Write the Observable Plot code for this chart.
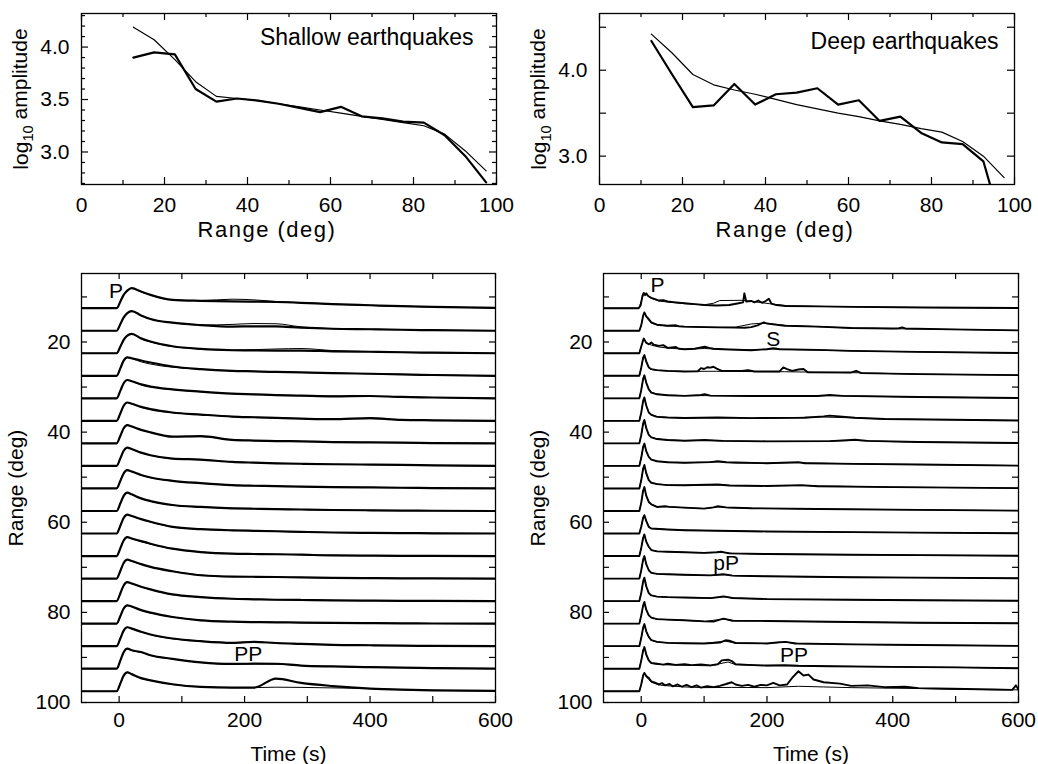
<!DOCTYPE html>
<html><head><meta charset="utf-8">
<script src="https://cdn.jsdelivr.net/npm/d3@7"></script>
<script src="https://cdn.jsdelivr.net/npm/@observablehq/plot@0.6"></script>
<style>
html,body{margin:0;padding:0;background:#fff;}
#fig{position:relative;width:1038px;height:764px;overflow:hidden;background:#fff;}
</style></head><body><div id="fig"></div>
<script>
// ---------------- DATA ----------------
// Top panels: log10 amplitude vs range
const ampRange = [12.5,17.5,22.5,27.5,32.5,37.5,42.5,47.5,52.5,57.5,62.5,67.5,72.5,77.5,82.5,87.5,92.5,97.5];
const shallowAmpObs = [3.90,3.95,3.93,3.60,3.48,3.51,3.49,3.46,3.42,3.38,3.43,3.34,3.32,3.29,3.28,3.16,2.96,2.71];
const shallowAmpSyn = [4.19,4.07,3.88,3.67,3.53,3.51,3.49,3.46,3.43,3.40,3.37,3.34,3.31,3.28,3.25,3.17,3.01,2.82];
const deepAmpObs = [4.34,3.95,3.57,3.59,3.84,3.60,3.72,3.74,3.79,3.60,3.65,3.41,3.46,3.27,3.16,3.14,2.94,2.10];
const deepAmpSyn = [4.42,4.20,3.95,3.83,3.77,3.72,3.66,3.60,3.55,3.50,3.46,3.41,3.37,3.32,3.28,3.17,3.00,2.75];

// Bottom panels: envelope stacks, one trace per range bin (amplitude in degrees of offset)
const traceRanges = [12.5,17.5,22.5,27.5,32.5,37.5,42.5,47.5,52.5,57.5,62.5,67.5,72.5,77.5,82.5,87.5,92.5,97.5];
const shallowTime = [-60,-4,2,7,13,20,35,50,85,130,180,215,250,290,340,400,450,500,600];
const shallowObs = [
  [0,0,1.5,2.9,3.9,4.44,3.7,2.96,1.85,1.63,1.5,1.45,1.38,1.2,0.9,0.65,0.44,0.3,0.05],
  [0,0,1.5,2.9,3.9,4.37,3.4,2.6,1.78,1.26,0.92,0.98,0.95,0.67,0.44,0.33,0.22,0.12,0],
  [0,0,1.5,2.9,3.9,4.3,3.3,2.6,1.55,0.96,0.67,0.62,0.6,0.6,0.44,0.33,0.22,0.12,0],
  [0,0,1.7,3.3,4.07,3.9,3.4,2.96,2.07,1.48,1.1,0.98,0.85,0.74,0.59,0.45,0.3,0.18,0],
  [0,0,1.7,3.3,4.07,3.8,3.1,2.6,2.0,1.48,1.04,0.88,0.72,0.6,0.44,0.52,0.3,0.18,0],
  [0,0,1.7,3.3,4.07,3.8,3.1,2.6,1.85,1.4,0.96,0.8,0.65,0.5,0.37,0.6,0.22,0.12,0],
  [0,0,1.7,3.3,4.07,3.75,3.0,2.44,1.48,1.6,0.8,0.62,0.52,0.45,0.3,0.22,0.15,0.08,0],
  [0,0,1.7,3.3,4.07,3.75,2.95,2.37,1.63,1.4,0.89,0.72,0.58,0.48,0.37,0.3,0.22,0.12,0],
  [0,0,1.7,3.3,4.07,3.75,3.0,2.44,1.7,1.18,0.74,0.6,0.5,0.4,0.3,0.22,0.15,0.08,0],
  [0,0,1.7,3.3,4.07,3.7,2.8,2.2,1.33,0.89,0.6,0.5,0.42,0.33,0.22,0.15,0.1,0.05,0],
  [0,0,1.75,3.4,4.2,3.9,3.2,2.6,1.48,0.96,0.7,0.6,0.5,0.37,0.22,0.15,0.1,0.05,0],
  [0,0,1.75,3.4,4.2,3.9,3.3,2.74,1.63,0.89,0.52,0.45,0.4,0.3,0.15,0.1,0.05,0.03,0],
  [0,0,1.75,3.4,4.2,3.9,3.2,2.6,1.63,0.74,0.44,0.4,0.35,0.25,0.15,0.1,0.05,0.03,0],
  [0,0,1.75,3.4,4.2,3.9,3.2,2.6,1.48,0.89,0.52,0.4,0.3,0.25,0.15,0.1,0.05,0.03,0],
  [0,0,1.7,3.3,4.07,3.8,3.0,2.44,1.48,0.74,0.44,0.35,0.3,0.22,0.15,0.1,0.05,0.03,0],
  [0,0,1.75,3.4,4.2,3.9,3.2,2.6,1.7,1.1,0.74,0.96,0.7,0.52,0.3,0.2,0.12,0.06,0],
  [0,0,1.85,3.6,4.44,4.1,3.7,3.0,2.2,1.4,1.05,1.15,1.1,0.7,0.5,0.35,0.25,0.15,0],
  [0,0,1.75,3.4,4.2,3.8,2.9,2.4,1.55,0.95,0.78,0.8,2.8,1.85,1.15,0.6,0.35,0.2,0.1]
];
const shallowSyn = [
  [0,0,1.5,2.9,3.9,4.44,3.6,2.9,1.85,1.7,2.0,1.85,1.5,1.25,0.9,0.65,0.44,0.3,0.05],
  [0,0,1.5,2.9,3.9,4.37,3.4,2.6,1.78,1.26,1.4,1.6,1.55,0.85,0.44,0.33,0.22,0.12,0],
  [0,0,1.5,2.9,3.9,4.3,3.2,2.5,1.5,0.96,0.7,0.8,0.95,1.05,0.6,0.35,0.22,0.12,0],
  [0,0,1.7,3.3,4.07,3.8,3.1,2.6,1.9,1.45,1.1,0.98,0.85,0.74,0.59,0.45,0.3,0.18,0],
  [0,0,1.7,3.3,4.07,3.8,3.0,2.55,1.95,1.45,1.04,0.88,0.72,0.6,0.5,0.45,0.3,0.18,0],
  [0,0,1.7,3.3,4.07,3.8,3.0,2.5,1.8,1.4,0.96,0.8,0.65,0.5,0.45,0.5,0.22,0.12,0],
  [0,0,1.7,3.3,4.07,3.75,3.0,2.44,1.5,1.5,0.8,0.62,0.52,0.45,0.3,0.22,0.15,0.08,0],
  [0,0,1.7,3.3,4.07,3.7,2.9,2.35,1.6,1.35,0.89,0.72,0.58,0.48,0.37,0.3,0.22,0.12,0],
  [0,0,1.7,3.3,4.07,3.7,2.95,2.4,1.65,1.15,0.74,0.6,0.5,0.4,0.3,0.22,0.15,0.08,0],
  [0,0,1.7,3.3,4.07,3.65,2.75,2.15,1.3,0.89,0.6,0.5,0.42,0.33,0.22,0.15,0.1,0.05,0],
  [0,0,1.75,3.4,4.2,3.85,3.15,2.55,1.45,0.96,0.7,0.6,0.5,0.37,0.22,0.15,0.1,0.05,0],
  [0,0,1.75,3.4,4.2,3.85,3.2,2.65,1.6,0.9,0.52,0.45,0.4,0.3,0.15,0.1,0.05,0.03,0],
  [0,0,1.75,3.4,4.2,3.85,3.15,2.55,1.6,0.8,0.46,0.4,0.35,0.25,0.15,0.1,0.05,0.03,0],
  [0,0,1.75,3.4,4.2,3.85,3.15,2.55,1.45,0.9,0.52,0.4,0.3,0.25,0.15,0.1,0.05,0.03,0],
  [0,0,1.7,3.3,4.07,3.75,2.95,2.4,1.45,0.78,0.46,0.36,0.3,0.22,0.15,0.1,0.05,0.03,0],
  [0,0,1.75,3.4,4.2,3.85,3.15,2.55,1.65,1.1,0.78,0.9,0.72,0.52,0.3,0.2,0.12,0.06,0],
  [0,0,1.85,3.6,4.44,4.05,3.6,2.95,2.15,1.4,1.0,1.0,1.0,0.7,0.5,0.35,0.25,0.15,0],
  [0,0,1.75,3.4,4.2,3.75,2.8,2.4,1.5,1.0,0.8,0.8,0.9,0.85,0.74,0.6,0.35,0.2,0.1]
];
// Deep traces: [time (s), amplitude] pairs
const deepObs = [
  [[-60,0],[-4,0],[-1,0.6],[2,2.8],[4,3.4],[6,2.9],[8,3.3],[11,2.7],[16,2.3],[22,2.0],[28,1.7],[35,1.8],[42,1.5],[55,1.3],[69,1.1],[85,0.9],[100,0.7],[120,0.6],[140,0.7],[155,1.1],[162,1.3],[164,3.3],[167,1.5],[175,1.6],[180,1.3],[186,1.7],[192,1.2],[198,1.6],[203,2.1],[207,1.0],[215,0.7],[230,0.5],[280,0.4],[340,0.3],[450,0.15],[600,0.05]],
  [[-60,0],[-3,0],[0,1.2],[3,3.3],[5,4.07],[8,3.2],[12,2.6],[16,1.85],[25,1.33],[42,1.1],[55,1.2],[60,1.0],[69,0.9],[100,0.8],[122,0.75],[150,0.7],[165,0.65],[175,0.8],[185,1.2],[195,1.85],[200,1.6],[210,1.4],[228,1.1],[281,0.9],[334,0.6],[400,0.5],[410,0.55],[415,0.75],[420,0.5],[494,0.3],[600,0.07]],
  [[-60,0],[-3,0],[0,1.5],[4,3.26],[8,2.3],[12,2.0],[16,2.4],[20,1.9],[28,1.63],[35,1.8],[42,1.2],[55,1.4],[60,1.0],[69,0.9],[85,1.0],[95,1.3],[101,1.45],[108,1.2],[115,1.0],[130,0.9],[175,0.67],[200,0.9],[210,1.1],[220,0.9],[281,0.75],[334,0.52],[441,0.3],[600,0.05]],
  [[-60,0],[-3,0],[0,1.8],[3,4.0],[5,4.6],[8,3.2],[12,1.85],[16,1.48],[25,1.26],[42,1.1],[69,0.96],[90,1.0],[95,1.7],[100,1.5],[105,1.9],[110,1.8],[115,2.0],[120,1.6],[128,1.1],[160,1.1],[170,1.26],[180,0.96],[220,0.96],[226,1.85],[232,1.5],[240,1.1],[250,1.4],[258,1.5],[265,0.8],[334,0.74],[342,1.1],[350,0.6],[441,0.37],[600,0.15]],
  [[-60,0],[-3,0],[0,1.8],[3,4.3],[5,5.1],[8,3.5],[12,2.0],[16,1.26],[25,0.89],[42,0.67],[69,0.55],[95,0.75],[101,0.9],[110,0.6],[175,0.52],[281,0.52],[300,0.74],[320,0.55],[441,0.3],[600,0.07]],
  [[-60,0],[-3,0],[0,1.8],[3,4.4],[5,5.2],[8,3.4],[12,1.85],[16,1.33],[25,0.89],[42,0.74],[69,0.65],[122,0.74],[175,0.6],[260,0.7],[290,1.0],[300,1.15],[315,1.0],[340,0.7],[387,0.4],[494,0.25],[600,0.07]],
  [[-60,0],[-3,0],[0,1.8],[3,4.4],[5,5.2],[8,3.4],[12,1.9],[16,1.33],[25,0.96],[42,0.74],[69,0.6],[101,0.74],[130,0.55],[200,0.45],[300,0.5],[340,0.8],[360,0.55],[441,0.3],[600,0.07]],
  [[-60,0],[-3,0],[0,1.8],[3,4.2],[5,4.96],[8,3.3],[12,2.0],[16,1.4],[25,1.04],[42,0.81],[69,0.7],[110,0.85],[122,1.04],[135,0.8],[200,0.6],[250,0.85],[260,0.6],[340,0.45],[441,0.3],[600,0.07]],
  [[-60,0],[-3,0],[0,1.8],[3,4.4],[5,5.2],[8,3.4],[12,1.85],[16,1.26],[25,0.96],[42,0.74],[69,0.7],[122,0.89],[140,0.65],[200,0.55],[255,0.74],[280,0.5],[400,0.3],[600,0.07]],
  [[-60,0],[-3,0],[0,1.8],[3,4.5],[5,5.3],[8,3.4],[12,2.0],[16,1.48],[25,0.89],[38,1.04],[45,0.9],[69,0.74],[100,0.52],[115,0.8],[122,1.04],[135,0.8],[175,0.6],[281,0.45],[441,0.25],[600,0.07]],
  [[-60,0],[-3,0],[0,1.5],[3,3.5],[5,4.07],[8,2.8],[12,1.48],[16,1.1],[42,0.89],[69,0.74],[122,0.6],[200,0.45],[334,0.3],[441,0.2],[600,0.07]],
  [[-60,0],[-3,0],[0,1.8],[3,4.0],[5,4.8],[8,3.2],[12,2.07],[16,1.33],[25,1.04],[42,0.96],[69,0.85],[100,0.7],[120,0.85],[127,0.96],[140,0.6],[200,0.45],[334,0.3],[441,0.2],[600,0.07]],
  [[-60,0],[-3,0],[0,1.8],[3,4.2],[5,5.0],[8,3.2],[12,1.85],[16,1.26],[25,1.04],[42,0.96],[69,0.85],[110,0.7],[131,0.96],[145,0.65],[200,0.5],[334,0.3],[441,0.2],[600,0.07]],
  [[-60,0],[-3,0],[0,1.8],[3,4.4],[5,5.2],[8,3.3],[12,1.78],[16,1.26],[25,1.0],[42,0.89],[69,0.8],[110,0.66],[125,0.9],[131,1.04],[145,0.7],[200,0.45],[334,0.3],[441,0.2],[600,0.07]],
  [[-60,0],[-3,0],[0,1.8],[3,4.0],[5,4.8],[8,3.1],[12,1.85],[16,1.33],[25,1.0],[42,0.89],[69,0.75],[100,0.5],[115,0.45],[125,0.9],[131,1.1],[145,0.65],[200,0.6],[334,0.35],[441,0.2],[600,0.07]],
  [[-60,0],[-3,0],[0,1.8],[3,4.1],[5,4.9],[8,3.3],[12,2.07],[16,1.33],[25,0.96],[42,0.74],[69,0.65],[100,0.6],[125,0.8],[134,1.3],[140,1.2],[150,0.7],[200,0.6],[220,0.9],[230,0.96],[245,0.6],[334,0.4],[441,0.25],[600,0.07]],
  [[-60,0],[-3,0],[0,1.8],[3,4.0],[5,4.8],[8,3.2],[12,1.85],[16,1.26],[25,1.1],[35,0.9],[42,1.1],[55,0.85],[69,1.0],[80,0.8],[95,0.95],[110,0.75],[122,1.0],[128,1.85],[138,2.0],[145,1.6],[150,1.0],[170,0.85],[200,0.7],[228,0.8],[250,0.65],[300,0.55],[400,0.4],[500,0.3],[600,0.1]],
  [[-60,0],[-3,0],[0,1.5],[3,3.5],[5,4.07],[8,3.4],[12,2.96],[16,2.2],[22,1.9],[28,1.5],[33,1.8],[38,1.3],[45,1.6],[50,1.1],[58,1.5],[65,1.0],[72,1.4],[80,0.9],[88,1.3],[95,0.8],[105,1.1],[115,0.9],[125,1.2],[135,1.6],[144,2.0],[150,1.5],[160,1.2],[170,1.4],[180,1.0],[190,1.4],[200,1.3],[210,1.85],[220,1.3],[232,1.5],[240,2.96],[250,4.44],[258,3.5],[266,3.7],[274,2.6],[290,2.0],[316,1.7],[334,1.2],[360,1.3],[387,0.9],[420,1.0],[441,0.7],[494,0.55],[560,0.4],[590,0.3],[596,1.3],[600,0.3]]
];
const deepSyn = [
  [[-60,0],[-4,0],[0,1.5],[4,3.2],[8,3.0],[16,2.2],[28,1.6],[42,1.35],[69,1.0],[100,0.75],[115,1.1],[125,1.7],[160,1.75],[182,1.4],[204,1.0],[230,0.55],[280,0.4],[340,0.3],[450,0.15],[600,0.05]],
  [[-60,0],[-3,0],[0,1.2],[3,3.3],[5,4.0],[8,3.1],[12,2.3],[16,1.7],[25,1.3],[42,1.05],[69,0.88],[122,0.75],[150,0.8],[175,1.5],[190,1.65],[205,1.6],[228,1.2],[281,0.9],[334,0.6],[400,0.45],[494,0.3],[600,0.07]],
  [[-60,0],[-3,0],[0,1.5],[4,3.2],[8,2.4],[16,1.8],[28,1.4],[42,1.15],[69,0.9],[101,1.05],[130,0.85],[175,0.75],[210,0.95],[250,0.8],[334,0.52],[441,0.3],[600,0.05]],
  [[-60,0],[-3,0],[0,1.8],[3,4.0],[5,4.5],[8,3.0],[12,1.75],[16,1.4],[25,1.2],[42,1.05],[69,0.95],[100,1.0],[120,1.0],[160,0.95],[228,0.9],[281,0.8],[334,0.7],[441,0.37],[600,0.15]],
  [[-60,0],[-3,0],[0,1.8],[3,4.3],[5,5.0],[8,3.4],[12,2.1],[16,1.35],[25,0.95],[42,0.7],[69,0.6],[101,0.6],[175,0.55],[300,0.6],[441,0.3],[600,0.07]],
  [[-60,0],[-3,0],[0,1.8],[3,4.4],[5,5.1],[8,3.3],[12,1.9],[16,1.4],[25,0.95],[42,0.75],[69,0.65],[122,0.7],[175,0.6],[290,0.85],[340,0.65],[387,0.4],[494,0.25],[600,0.07]],
  [[-60,0],[-3,0],[0,1.8],[3,4.4],[5,5.1],[8,3.3],[12,1.95],[16,1.4],[25,1.0],[42,0.75],[69,0.62],[101,0.65],[130,0.55],[200,0.45],[300,0.5],[340,0.65],[380,0.45],[441,0.3],[600,0.07]],
  [[-60,0],[-3,0],[0,1.8],[3,4.2],[5,4.9],[8,3.2],[12,2.0],[16,1.45],[25,1.05],[42,0.82],[69,0.7],[122,0.9],[150,0.65],[200,0.6],[255,0.7],[340,0.45],[441,0.3],[600,0.07]],
  [[-60,0],[-3,0],[0,1.8],[3,4.4],[5,5.1],[8,3.3],[12,1.9],[16,1.3],[25,1.0],[42,0.76],[69,0.7],[122,0.8],[150,0.62],[255,0.62],[400,0.3],[600,0.07]],
  [[-60,0],[-3,0],[0,1.8],[3,4.5],[5,5.2],[8,3.3],[12,2.0],[16,1.5],[25,0.95],[42,0.95],[69,0.72],[100,0.55],[122,0.9],[140,0.7],[175,0.6],[281,0.45],[441,0.25],[600,0.07]],
  [[-60,0],[-3,0],[0,1.5],[3,3.5],[5,4.0],[8,2.7],[12,1.5],[16,1.12],[42,0.88],[69,0.74],[122,0.62],[200,0.45],[334,0.3],[441,0.2],[600,0.07]],
  [[-60,0],[-3,0],[0,1.8],[3,4.0],[5,4.7],[8,3.1],[12,2.0],[16,1.35],[25,1.05],[42,0.95],[69,0.82],[100,0.7],[127,0.85],[145,0.6],[200,0.45],[334,0.3],[441,0.2],[600,0.07]],
  [[-60,0],[-3,0],[0,1.8],[3,4.2],[5,4.9],[8,3.1],[12,1.85],[16,1.3],[25,1.05],[42,0.95],[69,0.82],[110,0.7],[131,0.88],[150,0.62],[200,0.5],[334,0.3],[441,0.2],[600,0.07]],
  [[-60,0],[-3,0],[0,1.8],[3,4.4],[5,5.1],[8,3.2],[12,1.8],[16,1.3],[25,1.0],[42,0.88],[69,0.78],[110,0.68],[131,0.95],[150,0.65],[200,0.45],[334,0.3],[441,0.2],[600,0.07]],
  [[-60,0],[-3,0],[0,1.8],[3,4.0],[5,4.7],[8,3.0],[12,1.85],[16,1.35],[25,1.0],[42,0.88],[69,0.72],[100,0.5],[131,1.0],[150,0.65],[200,0.58],[334,0.35],[441,0.2],[600,0.07]],
  [[-60,0],[-3,0],[0,1.8],[3,4.1],[5,4.8],[8,3.2],[12,2.0],[16,1.35],[25,0.95],[42,0.74],[69,0.65],[100,0.6],[134,1.1],[150,0.7],[200,0.6],[230,0.85],[250,0.6],[334,0.4],[441,0.25],[600,0.07]],
  [[-60,0],[-3,0],[0,1.8],[3,4.0],[5,4.7],[8,3.0],[12,1.7],[16,1.2],[25,1.0],[42,0.85],[69,0.75],[110,0.65],[125,1.1],[138,1.5],[150,0.9],[200,0.65],[300,0.55],[400,0.4],[500,0.3],[600,0.1]],
  [[-60,0],[-3,0],[0,1.5],[3,3.4],[5,4.0],[8,3.2],[12,2.6],[16,2.0],[28,1.4],[42,1.2],[69,0.95],[100,0.8],[144,0.85],[200,0.8],[250,1.1],[290,0.95],[334,0.8],[441,0.6],[494,0.45],[600,0.3]]
];

// Axis ticks and labels
const rangeTicksMajor = [0,20,40,60,80,100];
const rangeTicksMinor = [10,30,50,70,90];
const shallowAmpTicks = [3.0,3.5,4.0];
const shallowAmpMinor = [2.7,2.8,2.9,3.1,3.2,3.3,3.4,3.6,3.7,3.8,3.9,4.1,4.2,4.3];
const deepAmpTicks = [3.0,4.0];
const deepAmpMid = [3.5,4.5];
const timeTicksMajor = [0,200,400,600];
const timeTicksMinor = [100,300,500];
const stackTicksMajor = [20,40,60,80,100];
const stackTicksMinor = [10,30,50,70,90];

const topXLabel = "Range (deg)";
const topYLabel = "log10 amplitude";
const panelTitles = ["Shallow earthquakes","Deep earthquakes"];
const phaseShallow = [{label:"P", t:-5, r:8.7},{label:"PP", t:206, r:89.3}];
const phaseDeep = [{label:"P", t:26, r:7.4},{label:"S", t:210, r:19.3},{label:"pP", t:135, r:69.2},{label:"PP", t:243, r:89.5}];

// ---------------- BUILD ----------------
const FONT = '"Liberation Sans", Arial, Helvetica, sans-serif';
const fig = document.getElementById("fig");
function place(el, left, top){ el.style.position="absolute"; el.style.left=left+"px"; el.style.top=top+"px"; fig.appendChild(el); }

function inward(xs, ys, iw, ih, len, sw=1.2){
  const o = {stroke:"black", strokeWidth:sw};
  const m = [];
  if (xs && xs.length){
    m.push(Plot.tickX(xs, {x:d=>d, insetTop: ih-len, ...o}));
    m.push(Plot.tickX(xs, {x:d=>d, insetBottom: ih-len, ...o}));
  }
  if (ys && ys.length){
    m.push(Plot.tickY(ys, {y:d=>d, insetRight: iw-len, ...o}));
    m.push(Plot.tickY(ys, {y:d=>d, insetLeft: iw-len, ...o}));
  }
  return m;
}

function subLabel(svg, plain){
  svg.querySelectorAll("text").forEach(t=>{
    if (t.textContent === plain){
      const tgt = t.querySelector("tspan") || t;
      tgt.textContent = "";
      const ns="http://www.w3.org/2000/svg";
      const a=document.createElementNS(ns,"tspan"); a.textContent="log";
      const b=document.createElementNS(ns,"tspan"); b.textContent="10"; b.setAttribute("dy","0.3em"); b.setAttribute("font-size","70%");
      const c=document.createElementNS(ns,"tspan"); c.textContent=" amplitude"; c.setAttribute("dy","-0.3em");
      tgt.appendChild(a); tgt.appendChild(b); tgt.appendChild(c);
    }
  });
}
function spaceLabel(svg, plain, px){
  svg.querySelectorAll("text").forEach(t=>{ if (t.textContent === plain) t.style.letterSpacing = px + "px"; });
}

function topPanel({obs, syn, ydom, yMajor, yMinor, yMid, title, ml, mr, titleDx, titleDy}){
  const W=519, H=250, mt=13, mb=66;
  const iw=W-ml-mr, ih=H-mt-mb;
  const rowsObs = ampRange.map((r,i)=>({r, v:obs[i]}));
  const rowsSyn = ampRange.map((r,i)=>({r, v:syn[i]}));
  const marks = [
    ...inward(rangeTicksMajor, yMajor, iw, ih, 7),
    ...inward(rangeTicksMinor, yMinor, iw, ih, 4),
    ...(yMid ? inward(null, yMid, iw, ih, 7) : []),
    Plot.line(rowsSyn, {x:"r", y:"v", stroke:"black", strokeWidth:1.2, clip:true}),
    Plot.line(rowsObs, {x:"r", y:"v", stroke:"black", strokeWidth:2.2, strokeLinejoin:"round", clip:true}),
    Plot.frame({stroke:"black", strokeWidth:1.3}),
    Plot.axisX(rangeTicksMajor, {anchor:"bottom", tickSize:0, tickPadding:13, label:null}),
    Plot.text([topXLabel], {text:d=>d, frameAnchor:"bottom", dx:-22, dy:52, lineAnchor:"bottom", textAnchor:"middle", fontSize:22}),
    Plot.axisY(yMajor, {anchor:"left", tickSize:0, tickPadding:12, tickFormat:d=>d.toFixed(1), label:topYLabel, labelAnchor:"center", labelOffset:68, labelArrow:"none"}),
    Plot.text([title], {text:d=>d, frameAnchor:"top-right", dx:titleDx, dy:titleDy, textAnchor:"end", lineAnchor:"middle", fontSize:23})
  ];
  const svg = Plot.plot({
    width:W, height:H, marginLeft:ml, marginRight:mr, marginTop:mt, marginBottom:mb,
    x:{domain:[0,100]}, y:{domain:ydom},
    style:{fontFamily:FONT, fontSize:"21px", color:"black", background:"transparent", overflow:"visible"},
    marks
  });
  subLabel(svg, topYLabel);
  spaceLabel(svg, topXLabel, 1.5);
  return svg;
}

function stackRows(arr, timeGrid){
  const rows=[];
  arr.forEach((tr,i)=>{
    const base = traceRanges[i];
    if (timeGrid) tr.forEach((a,j)=>rows.push({k:i, t:timeGrid[j], y:base-a}));
    else tr.forEach(([t,a])=>rows.push({k:i, t, y:base-a}));
  });
  return rows;
}

function bottomPanel({obs, syn, grid, ml, mr, curve, phases, obsW}){
  const W=519, H=514, mt=23, mb=62;
  const iw=W-ml-mr, ih=H-mt-mb;
  const marks = [
    ...inward(timeTicksMajor, stackTicksMajor, iw, ih, 6),
    ...inward(timeTicksMinor, stackTicksMinor, iw, ih, 6),
    Plot.line(stackRows(obs, grid), {x:"t", y:"y", z:"k", stroke:"black", strokeWidth:obsW, strokeLinejoin:"round", curve, clip:true}),
    Plot.line(stackRows(syn, grid), {x:"t", y:"y", z:"k", stroke:"black", strokeWidth:1, curve, clip:true}),
    Plot.frame({stroke:"black", strokeWidth:1.3}),
    Plot.text(phases, {x:"t", y:"r", text:"label", textAnchor:"middle", lineAnchor:"middle", fontSize:21}),
    Plot.axisX(timeTicksMajor, {anchor:"bottom", tickSize:0, tickPadding:10, label:"Time (s)", labelAnchor:"center", labelOffset:58, labelArrow:"none"}),
    Plot.axisY(stackTicksMajor, {anchor:"left", tickSize:0, tickPadding:11, label:"Range (deg)", labelAnchor:"center", labelOffset:73, labelArrow:"none"})
  ];
  return Plot.plot({
    width:W, height:H, marginLeft:ml, marginRight:mr, marginTop:mt, marginBottom:mb,
    x:{domain:[-60,600]}, y:{domain:[4.8,100], reverse:true},
    style:{fontFamily:FONT, fontSize:"21px", color:"black", background:"transparent", overflow:"visible"},
    marks
  });
}

place(topPanel({obs:shallowAmpObs, syn:shallowAmpSyn, ydom:[2.69,4.32], yMajor:shallowAmpTicks, yMinor:shallowAmpMinor, title:panelTitles[0], ml:81, mr:23, titleDx:-23, titleDy:24}), 0, 0);
place(topPanel({obs:deepAmpObs, syn:deepAmpSyn, ydom:[2.67,4.66], yMajor:deepAmpTicks, yMinor:[], yMid:deepAmpMid, title:panelTitles[1], ml:80, mr:24, titleDx:-16, titleDy:28}), 519, 0);
place(bottomPanel({obs:shallowObs, syn:shallowSyn, grid:shallowTime, ml:81, mr:24, curve:"monotone-x", phases:phaseShallow, obsW:2.2}), 0, 250);
place(bottomPanel({obs:deepObs, syn:deepSyn, grid:null, ml:84, mr:20, curve:"linear", phases:phaseDeep, obsW:1.9}), 519, 250);
</script></body></html>
